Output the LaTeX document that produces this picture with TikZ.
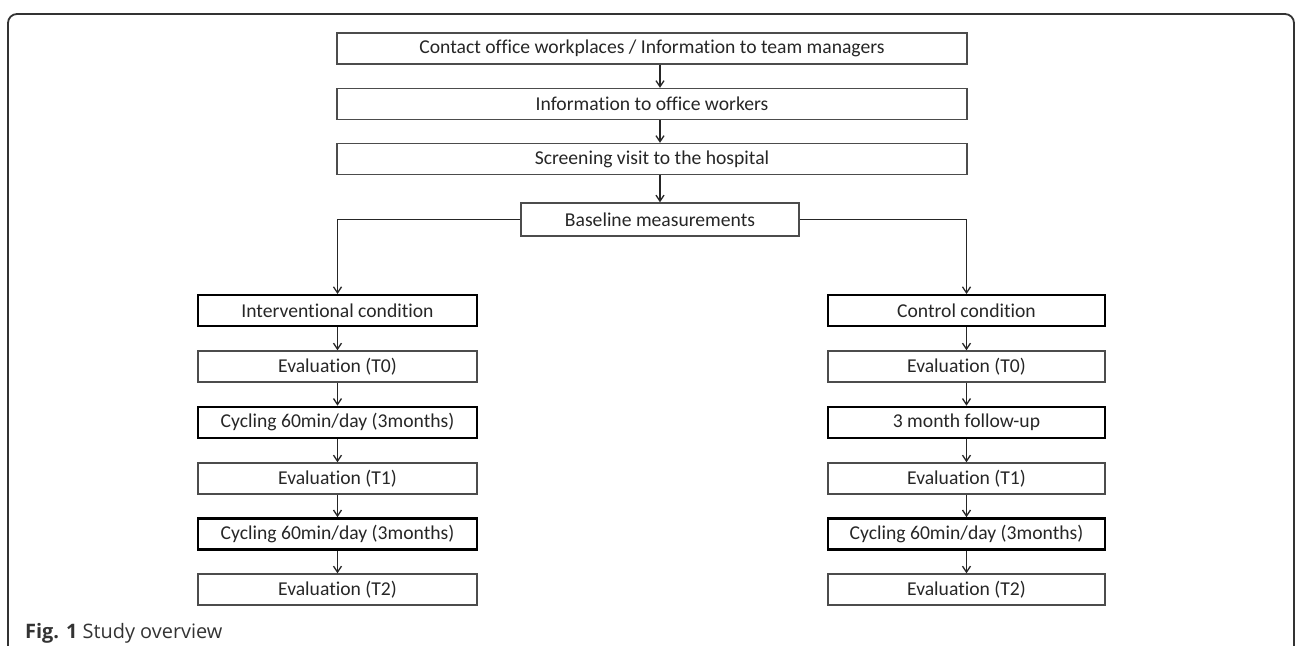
\documentclass[tikz,border=0pt]{standalone}
\usepackage{fontspec}
\setmainfont{Carlito}[Ligatures=NoCommon]
\newfontfamily\capfont{Open Sans}
\usetikzlibrary{arrows.meta}
\begin{document}
\begin{tikzpicture}[x=1bp,y=-1bp,
  thinbox/.style={draw=black!70, line width=1.4bp, minimum height=31bp, inner sep=0pt, font=\fontsize{19.7}{22}\selectfont, text=black!85},
  thickbox/.style={thinbox, draw=black, line width=2.6bp},
  conn/.style={draw=black!85, line width=1.3bp, -{Straight Barb[length=6bp,width=8bp]}},
  plain/.style={draw=black!85, line width=1.3bp}]
\useasboundingbox (0,0) rectangle (1295,646);
% frame
\draw[black!80, line width=1.8bp, rounded corners=9bp] (8,646) -- (8,14) -- (1294,14) -- (1294,646);
% top chain
\node[thinbox, minimum width=630bp] (b1) at (652,48.5) {Contact office workplaces / Information to team managers};
\node[thinbox, minimum width=630bp] (b2) at (652,104) {Information to office workers};
\node[thinbox, minimum width=630bp] (b3) at (652,159) {Screening visit to the hospital};
\node[thinbox, minimum width=278bp, minimum height=33bp] (base) at (660,219.5) {Baseline measurements};
\draw[conn] (b1.south -| base.north) -- (b2.north -| base.north);
\draw[conn] (b2.south -| base.north) -- (b3.north -| base.north);
\draw[conn] (b3.south -| base.north) -- (base.north);
% left column
\node[thickbox, minimum width=279bp, line width=2bp] (l1) at (337.5,310.5) {Interventional condition};
\node[thinbox, minimum width=279bp] (l2) at (337.5,366.5) {Evaluation (T0)};
\node[thickbox, minimum width=279bp] (l3) at (337.5,422.5) {Cycling 60min/day (3months)};
\node[thinbox, minimum width=279bp] (l4) at (337.5,478.5) {Evaluation (T1)};
\node[thickbox, minimum width=279bp] (l5) at (337.5,534) {Cycling 60min/day (3months)};
\node[thinbox, minimum width=279bp] (l6) at (337.5,589.5) {Evaluation (T2)};
% right column
\node[thickbox, minimum width=277bp, line width=2bp] (r1) at (966.5,310.5) {Control condition};
\node[thinbox, minimum width=277bp] (r2) at (966.5,366.5) {Evaluation (T0)};
\node[thickbox, minimum width=277bp] (r3) at (966.5,422.5) {3 month follow-up};
\node[thinbox, minimum width=277bp] (r4) at (966.5,478.5) {Evaluation (T1)};
\node[thickbox, minimum width=277bp] (r5) at (966.5,534) {Cycling 60min/day (3months)};
\node[thinbox, minimum width=277bp] (r6) at (966.5,589.5) {Evaluation (T2)};
% branches
\draw[conn] (base.west) -| (l1.north);
\draw[conn] (base.east) -| (r1.north);
\foreach \a/\b in {l1/l2,l2/l3,l3/l4,l4/l5,l5/l6,r1/r2,r2/r3,r3/r4,r4/r5,r5/r6}
  \draw[conn] (\a.south) -- (\b.north);
% caption
\node[anchor=base west, inner sep=0pt, font=\capfont\fontsize{20}{24}\selectfont, text=black!80] (cap) at (25,638) {\textbf{Fig. 1} Study overview};
\end{tikzpicture}
\end{document}
